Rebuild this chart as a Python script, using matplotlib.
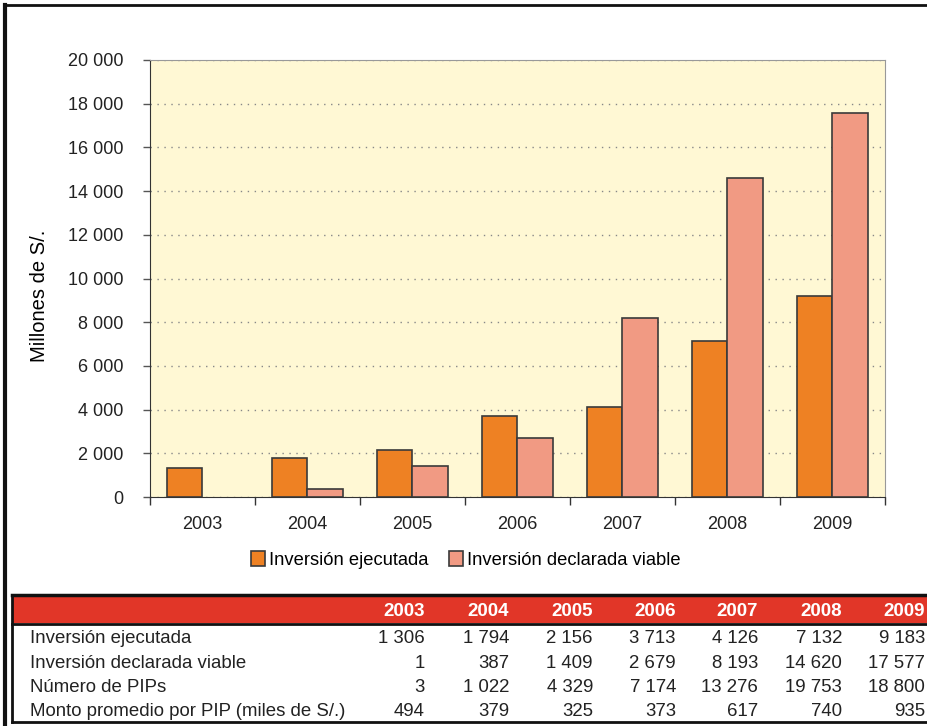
import numpy as np
import matplotlib
matplotlib.use("Agg")
import matplotlib.pyplot as plt
from matplotlib.patches import Rectangle, Patch
from matplotlib.lines import Line2D

# -------------------- DATA --------------------
years = ["2003", "2004", "2005", "2006", "2007", "2008", "2009"]
ejecutada = [1306, 1794, 2156, 3713, 4126, 7132, 9183]
viable = [1, 387, 1409, 2679, 8193, 14620, 17577]
num_pips = [3, 1022, 4329, 7174, 13276, 19753, 18800]
monto_prom = [494, 379, 325, 373, 617, 740, 935]
row_labels = ["Inversión ejecutada", "Inversión declarada viable",
              "Número de PIPs", "Monto promedio por PIP (miles de S/.)"]
y_ticks = [0, 2000, 4000, 6000, 8000, 10000, 12000, 14000, 16000, 18000, 20000]

c_ejec = "#EE8123"
c_viab = "#F19A83"
c_edge = "#3a3a3a"


def fmt(v):
    return f"{v:,}".replace(",", " ")


plt.rcParams["font.family"] = ["Liberation Sans", "DejaVu Sans"]

W, H = 928, 726
fig = plt.figure(figsize=(W / 100, H / 100), dpi=100)


def fx(px):
    return px / W


def fy(py):
    return 1 - py / H


# -------------------- BAR CHART --------------------
ax = fig.add_axes([fx(150), fy(497), fx(885) - fx(150), fy(60) - fy(497)])
ax.set_facecolor("#FFF8D4")
x = np.arange(len(years))
bw = 0.335
ax.bar(x - bw / 2, ejecutada, bw, color=c_ejec, edgecolor=c_edge, lw=1.2, zorder=3)
b2 = ax.bar(x + bw / 2, viable, bw, color=c_viab, edgecolor=c_edge, lw=1.2, zorder=3)
# a value of 1 is invisible at this scale, so no outline either
for rect, v in zip(b2, viable):
    if v < 50:
        rect.set_linewidth(0)

ax.set_xlim(-0.5, len(years) - 0.5)
ax.set_ylim(0, 20000)
ax.set_yticks(y_ticks)
ax.set_yticklabels([fmt(v) for v in y_ticks], fontsize=13, color="#222222")
ax.set_xticks(np.arange(len(years) + 1) - 0.5)
ax.set_xticklabels([])
ax.set_xticks(x, minor=True)
ax.set_xticklabels(years, minor=True, fontsize=13, color="#222222")
ax.tick_params(axis="x", which="major", length=6, width=1, color="#333333", direction="out")
ax.tick_params(axis="x", which="minor", length=0, pad=14)
ax.tick_params(axis="y", length=5, width=1, color="#555555", pad=14)
ax.yaxis.grid(True, linestyle=(0, (1, 4)), color="#888888", lw=1, zorder=1)
ax.spines["left"].set_color("#333333")
ax.spines["bottom"].set_color("#333333")
ax.spines["top"].set_color("#999999")
ax.spines["right"].set_color("#999999")
ax.set_ylabel("Millones de S/.", fontsize=14.5)
ax.yaxis.set_label_coords(-0.137, 0.46)

handles = [Patch(facecolor=c_ejec, edgecolor=c_edge, lw=1.2, label="Inversión ejecutada"),
           Patch(facecolor=c_viab, edgecolor=c_edge, lw=1.2, label="Inversión declarada viable")]
ax.legend(handles=handles, loc="upper center", bbox_to_anchor=(0.43, -0.085), ncol=2,
          frameon=False, fontsize=13.2, handlelength=0.75, handleheight=0.9,
          handletextpad=0.25, columnspacing=1.1)

# -------------------- FRAME --------------------
fig.add_artist(Line2D([fx(5), fx(5)], [fy(5), fy(726)], color="#111111", lw=3))
fig.add_artist(Line2D([fx(5), fx(928)], [fy(5), fy(5)], color="#111111", lw=2))

# -------------------- TABLE --------------------
fig.add_artist(Rectangle((fx(12), fy(623)), fx(928) - fx(12), fy(596) - fy(623),
                         transform=fig.transFigure, facecolor="#E13628", edgecolor="none"))
for yy, lw in [(595, 2.5), (623.5, 2), (722, 2)]:
    fig.add_artist(Line2D([fx(12), fx(928)], [fy(yy), fy(yy)], color="#111111", lw=lw))
fig.add_artist(Line2D([fx(12), fx(12)], [fy(595), fy(722)], color="#111111", lw=2))

col_right = [425, 509, 593, 676, 758, 842, 925]
for cx, yr in zip(col_right, years):
    fig.text(fx(cx), fy(611), yr, ha="right", va="center", fontsize=13.5,
             fontweight="bold", color="white")

rows = [ejecutada, viable, num_pips, monto_prom]
row_y = [638.5, 663, 687, 711]
for ry, lab, vals in zip(row_y, row_labels, rows):
    fig.text(fx(30), fy(ry), lab, ha="left", va="center", fontsize=13.4, color="#222222")
    for cx, v in zip(col_right, vals):
        fig.text(fx(cx), fy(ry), fmt(v), ha="right", va="center", fontsize=13.4,
                 color="#222222")

fig.savefig("out.png", dpi=100)
